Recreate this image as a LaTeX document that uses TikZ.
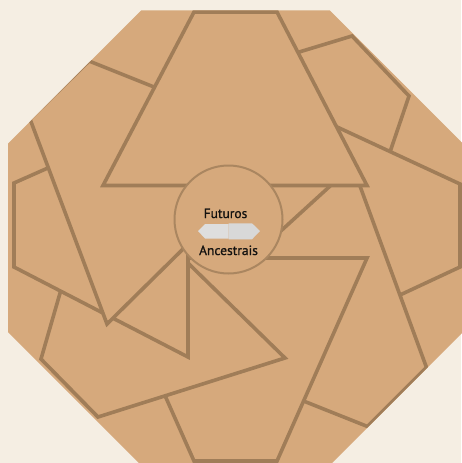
\documentclass[tikz,border=0pt]{standalone}
\usepackage{fontspec}
\setmainfont{PT Sans}
\newfontfamily\lblfont[FakeBold=0.9]{PT Sans}
\definecolor{bgc}{RGB}{245,238,227}
\definecolor{tanc}{RGB}{214,169,124}
\definecolor{edgec}{RGB}{160,125,88}
\definecolor{circc}{RGB}{170,134,96}
\definecolor{txtc}{RGB}{20,18,16}
\definecolor{iconl}{RGB}{222,222,222}
\definecolor{iconr}{RGB}{216,216,216}
\begin{document}
\begin{tikzpicture}[x=1pt,y=-1pt,
  piece/.style={fill=tanc, draw=edgec, line width=3.6pt, line join=miter},
  hub/.style={fill=tanc, draw=circc, line width=2pt},
  lbl/.style={text=txtc, font=\lblfont\fontsize{13.5}{14}\selectfont, anchor=base, inner sep=0pt}]
\useasboundingbox (0,0) rectangle (461,463);
\fill[bgc] (0,0) rectangle (461,463);
\path[fill=tanc] (141.3,10.3) -- (329.7,10.3) -- (463,143.6) -- (463,332) -- (329.7,465.3) -- (141.3,465.3) -- (8,332) -- (8,143.6) -- cycle;
\begin{scope}
  \clip (141.3,10.3) -- (329.7,10.3) -- (463,143.6) -- (463,332) -- (329.7,465.3) -- (141.3,465.3) -- (8,332) -- (8,143.6) -- cycle;
  % upper right
  \draw[piece] (352,36) -- (409,96) -- (342.5,292) -- (177,89) -- cycle;
  % right
  \draw[piece] (460,184) -- (460,267) -- (250,365) -- (250,86.6) -- cycle;
  % lower right
  \draw[piece] (352.5,165.6) -- (426.5,367.5) -- (367.5,426.5) -- (158,343) -- cycle;
  % bottom
  \draw[piece] (194,461) -- (277,461) -- (367,258) -- (104,258) -- cycle;
  % lower left
  \draw[piece] (41,359) -- (98,417) -- (285,358) -- (95,172) -- cycle;
  % left
  \draw[piece] (14,183) -- (14,267) -- (188,357) -- (188,106) -- cycle;
  % upper left
  \draw[piece] (89,61) -- (30,119) -- (107,324) -- (291.5,142) -- cycle;
  % top
  \draw[piece] (194,12) -- (277,12) -- (367,185.5) -- (103,185.5) -- cycle;
\end{scope}
\node[hub, circle, minimum size=108pt, inner sep=0pt] (hub) at (228.5,219.5) {};
\node[lbl] (fut) at (225.5,218) {Futuros};
\node[lbl] (anc) at (228.5,255) {Ancestrais};
\fill[iconl] (198,231) -- (205,224) -- (228.5,224) -- (228.5,238.5) -- (205,238.5) -- cycle;
\fill[iconr] (228.5,223.3) -- (252,223.3) -- (260,231) -- (252,239.3) -- (228.5,239.3) -- cycle;
\end{tikzpicture}
\end{document}
